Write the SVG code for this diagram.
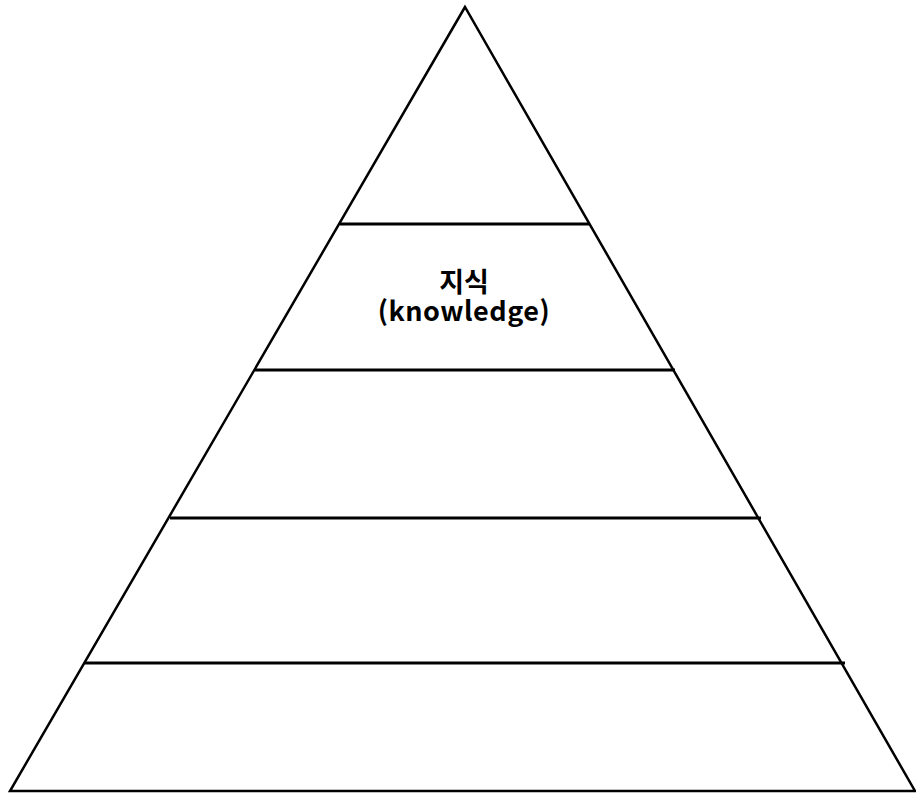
<svg xmlns="http://www.w3.org/2000/svg" width="916" height="795" viewBox="0 0 916 795">
<style>
.side{fill:none;stroke:#000;stroke-width:2.5;stroke-linejoin:miter}
.tier{stroke:#000;stroke-width:3}
.lbl{font-family:"Malgun Gothic","Noto Sans CJK KR",sans-serif;font-weight:bold;font-size:27px;fill:#000;text-anchor:middle}
</style>
<rect width="916" height="795" fill="#fff"/>
<g id="pyramid">
<polygon class="side" points="465,7 10,791 915,791"/>
</g>
<g id="connectors">
<line class="tier" x1="340" y1="224" x2="590" y2="224"/>
<line class="tier" x1="255" y1="370" x2="675" y2="370"/>
<line class="tier" x1="170" y1="518" x2="761" y2="518"/>
<line class="tier" x1="85" y1="663" x2="845" y2="663"/>
</g>
<g id="knowledge">
<text class="lbl" x="464" y="292">지식<tspan x="464" y="321" letter-spacing="0.5">(knowledge)</tspan></text>
</g>
</svg>
